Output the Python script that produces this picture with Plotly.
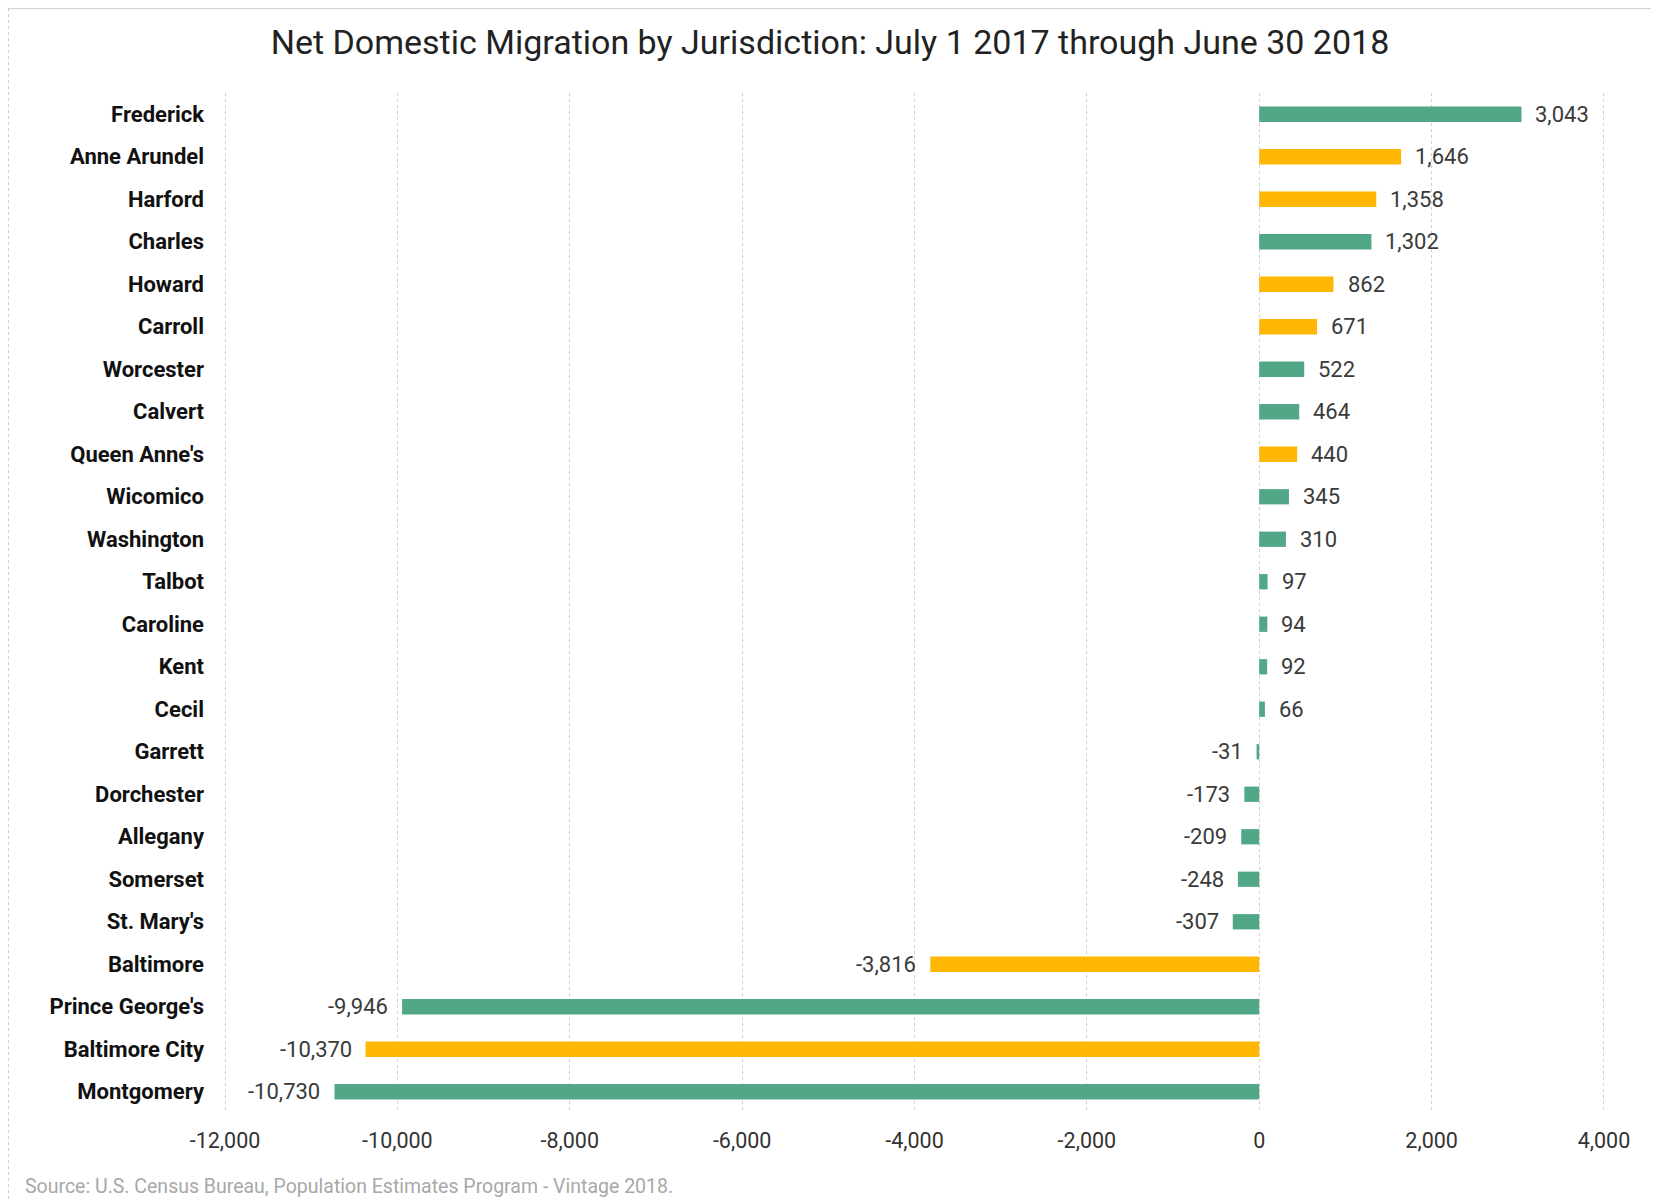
import plotly.graph_objects as go

categories = ["Frederick", "Anne Arundel", "Harford", "Charles", "Howard", "Carroll",
              "Worcester", "Calvert", "Queen Anne's", "Wicomico", "Washington", "Talbot",
              "Caroline", "Kent", "Cecil", "Garrett", "Dorchester", "Allegany", "Somerset",
              "St. Mary's", "Baltimore", "Prince George's", "Baltimore City", "Montgomery"]
values = [3043, 1646, 1358, 1302, 862, 671, 522, 464, 440, 345, 310, 97, 94, 92, 66,
          -31, -173, -209, -248, -307, -3816, -9946, -10370, -10730]
highlight = [False, True, True, False, True, True, False, False, True, False, False, False,
             False, False, False, False, False, False, False, False, True, False, True, False]
x_ticks = [-12000, -10000, -8000, -6000, -4000, -2000, 0, 2000, 4000]

GREEN = "#52a886"
GOLD = "#ffb703"
colors = [GOLD if h else GREEN for h in highlight]

W, H = 1651, 1191
L, R, T, B = 216, 54, 85, 86
PW, PH = W - L - R, H - T - B


def px_x(p):
    return (p - L) / PW


def px_y(p):
    return 1 - (p - T) / PH


fig = go.Figure()
fig.add_trace(go.Bar(
    y=categories, x=values, orientation="h",
    marker=dict(color=colors, line=dict(width=0)),
    width=0.36, showlegend=False, hoverinfo="x+y",
))

for c, v in zip(categories, values):
    fig.add_annotation(
        x=v, y=c, text=f"{v:,}", showarrow=False,
        xanchor="left" if v >= 0 else "right",
        xshift=12 if v >= 0 else -12,
        font=dict(family="Roboto", size=22, color="#3a3a3a"),
    )

fig.update_layout(
    width=W, height=H,
    margin=dict(l=L, r=R, t=T, b=B, autoexpand=False),
    paper_bgcolor="white", plot_bgcolor="white",
    font=dict(family="Roboto", color="#222"),
    title=dict(text="Net Domestic Migration by Jurisdiction: July 1 2017 through June 30 2018",
               x=822 / W, xanchor="center", xref="container", y=1 - 34 / H, yanchor="middle",
               font=dict(family="Roboto", size=34, color="#222")),
    xaxis=dict(range=[-12012, 4012], tickvals=x_ticks,
               ticktext=[f"{t:,}" for t in x_ticks],
               showgrid=True, gridcolor="#cfcfcf", griddash="dot", gridwidth=1,
               zeroline=False, showline=False, ticks="",
               tickfont=dict(family="Roboto", size=21.5, color="#333"),
               ticklabelstandoff=12),
    yaxis=dict(autorange="reversed", showgrid=False, zeroline=False, showline=False,
               ticks="", tickfont=dict(family="Roboto", size=22, color="#111", weight="bold"),
               ticklabelstandoff=19),
    bargap=0.6,
)

fig.add_annotation(
    xref="paper", yref="paper", x=px_x(15), y=px_y(1178),
    xanchor="left", yanchor="middle",
    text="Source: U.S. Census Bureau, Population Estimates Program - Vintage 2018.",
    showarrow=False, font=dict(family="Roboto", size=19.5, color="#a8a8a8"),
)

# frame: solid top, dotted sides, none at bottom
fig.add_shape(type="line", xref="paper", yref="paper",
              x0=px_x(0), x1=px_x(W), y0=px_y(0.5), y1=px_y(0.5),
              line=dict(color="#d6d6d6", width=1.5))
for xx in (0.5, W - 0.5):
    fig.add_shape(type="line", xref="paper", yref="paper",
                  x0=px_x(xx), x1=px_x(xx), y0=px_y(0), y1=px_y(H),
                  line=dict(color="#cfcfcf", width=1, dash="dot"))

fig.write_html("out.html")
